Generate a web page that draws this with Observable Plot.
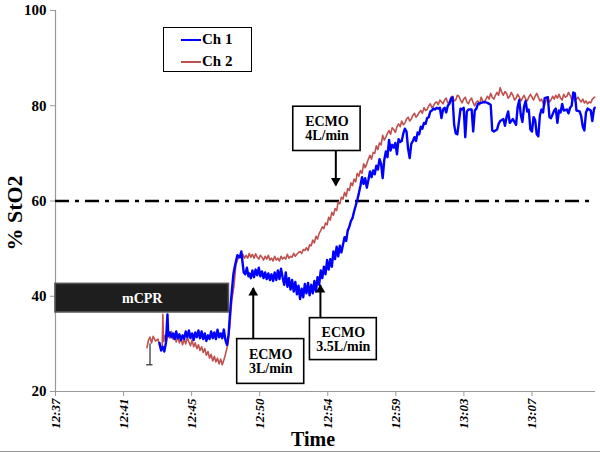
<!DOCTYPE html>
<html>
<head>
<meta charset="utf-8">
<script src="https://cdn.jsdelivr.net/npm/d3@7"></script>
<script src="https://cdn.jsdelivr.net/npm/@observablehq/plot@0.6"></script>
<style>
  html, body { margin: 0; padding: 0; background: #fff; }
  #wrap { position: relative; width: 600px; height: 453px; overflow: hidden; font-family: "Liberation Serif", "DejaVu Serif", serif; }
  #legend { position: absolute; left: 163px; top: 27px; width: 87px; height: 43px; border: 1px solid #000; background: #fff; font-weight: bold; font-size: 15px; }
  .lg { position: absolute; left: 17px; height: 16px; line-height: 16px; }
  .lg span.sw { display: inline-block; width: 20px; height: 2px; vertical-align: middle; margin-right: 1px; position: relative; top: -1px; }
  #border { position: absolute; left: 0; right: 0; top: 451px; height: 1px; background: #999; }
  svg text { font-family: "Liberation Serif", "DejaVu Serif", serif; }
</style>
</head>
<body>
<div id="wrap">
  <div id="chart"></div>
  <div id="legend">
    <div class="lg" style="top:3px"><span class="sw" style="background:#0000FF"></span>Ch 1</div>
    <div class="lg" style="top:25px"><span class="sw" style="background:#C0504D"></span>Ch 2</div>
  </div>
  <div id="border"></div>
</div>
<script>
// ---- data (x = minutes after 12:37, y = % StO2) ----
const timeLabels = ["12:37", "12:41", "12:45", "12:50", "12:54", "12:59", "13:03", "13:07"];
const tickStep = 30 / 7; // category tick spacing in minutes
const yTicks = [20, 40, 60, 80, 100];
const threshold = [60];

const ch1 = [
  [6.55,30.2],[6.65,28.6],[6.75,29.4],[6.85,28.4],[6.95,30.2],[7.05,36.2],[7.1,31.6],[7.2,32.4],[7.3,31.4],[7.4,32.2],
  [7.5,31.0],[7.6,32.6],[7.7,31.2],[7.8,32.0],[7.9,30.8],[8.0,31.8],[8.1,31.0],[8.2,32.6],[8.3,31.4],[8.4,32.8],
  [8.5,31.2],[8.6,32.2],[8.7,30.8],[8.8,32.4],[8.9,31.4],[9.0,32.8],[9.1,31.2],[9.2,32.6],[9.3,31.0],[9.4,32.2],
  [9.5,30.6],[9.6,31.8],[9.7,31.0],[9.8,32.6],[9.9,31.2],[10.0,32.4],[10.1,31.0],[10.2,33.0],[10.3,31.4],[10.4,32.2],
  [10.5,31.2],[10.6,33.0],[10.7,30.8],[10.8,29.8],[10.9,32.0],[11.0,37.0],[11.1,41.0],[11.2,44.6],[11.3,46.4],[11.45,48.6],
  [11.6,48.2],[11.7,49.4],[11.78,47.0],[11.85,45.0],[11.95,44.6],[12.05,46.0],[12.15,44.2],
  [12.2,44.8],[12.3,43.8],[12.4,45.4],[12.5,44.0],[12.6,45.6],[12.7,44.4],[12.8,46.0],[12.9,44.2],[13.0,45.2],[13.1,43.8],
  [13.2,45.0],[13.3,43.6],[13.4,44.8],[13.5,43.4],[13.6,44.6],[13.7,43.2],[13.8,45.0],[13.9,43.4],[14.0,45.4],[14.1,43.6],
  [14.2,45.8],[14.3,44.0],[14.4,42.4],[14.5,45.0],[14.6,42.0],[14.7,43.8],[14.8,41.4],[14.9,43.4],[15.0,41.0],[15.1,43.0],
  [15.2,40.4],[15.3,42.2],[15.4,39.4],[15.5,41.6],[15.6,39.8],[15.7,42.6],[15.8,40.6],[15.9,42.8],[16.0,40.2],[16.1,42.4],
  [16.2,40.6],[16.3,43.2],[16.4,41.0],[16.5,44.0],[16.6,42.4],[16.7,45.4],[16.8,43.8],[16.9,46.2],[17.0,44.6],[17.1,47.6],
  [17.2,45.6],[17.3,47.8],[17.4,46.2],[17.5,49.4],[17.6,47.8],[17.7,50.4],[17.8,48.4],[17.9,50.6],[18.0,49.2],[18.1,50.8],
  [18.2,52.4],[18.3,51.6],[18.4,53.8],[18.5,54.6],[18.6,55.8],[18.7,56.4],[18.8,57.8],[18.9,59.0],[19.0,60.2],[19.1,61.6],
  [19.2,63.2],[19.3,65.0],[19.4,63.6],[19.5,64.8],[19.6,62.8],[19.7,64.4],[19.8,66.2],[19.9,65.0],[20.0,66.4],[20.1,65.6],
  [20.2,67.4],[20.3,66.6],[20.4,68.8],[20.5,67.8],[20.6,64.8],[20.7,68.6],[20.8,70.4],[20.9,69.2],[21.0,72.8],[21.1,70.6],
  [21.2,71.8],[21.3,71.2],[21.4,72.2],[21.5,69.8],[21.6,73.0],[21.7,72.4],[21.8,72.6],[21.9,74.2],[22.0,75.2],[22.1,74.6],
  [22.2,71.0],[22.3,69.0],[22.4,72.0],[22.5,72.6],[22.6,73.4],[22.7,72.6],[22.8,74.4],[22.9,74.0],[23.0,75.6],[23.1,75.2],
  [23.2,76.4],[23.3,76.2],[23.4,77.4],[23.5,77.6],[23.6,78.8],[23.7,79.0],[23.8,79.4],[23.9,79.2],[24.0,79.6],[24.1,79.4],
  [24.2,79.6],[24.3,77.4],[24.4,79.2],[24.5,79.6],[24.6,78.6],[24.7,80.0],[24.8,80.4],[24.9,81.4],[25.0,81.8],[25.1,76.0],
  [25.2,74.2],[25.3,74.0],[25.4,76.6],[25.5,79.4],[25.6,79.2],[25.7,79.6],[25.8,73.4],[25.9,78.8],[26.0,79.2],[26.2,79.2],
  [26.3,74.6],[26.4,79.0],[26.5,79.4],[26.6,80.4],[26.8,80.6],[27.0,80.8],[27.2,80.6],[27.4,80.2],[27.5,74.8],[27.6,74.6],
  [27.8,75.0],[27.9,76.2],[28.0,76.8],[28.2,77.2],[28.3,75.8],[28.4,77.6],[28.5,78.8],[28.6,76.4],[28.8,77.2],[29.0,76.0],
  [29.1,79.8],[29.2,81.2],[29.3,78.0],[29.4,76.6],[29.5,79.8],[29.6,81.0],[29.7,78.8],[29.8,79.2],[29.9,75.0],[30.0,74.6],
  [30.1,77.6],[30.2,77.0],[30.3,74.0],[30.4,73.6],[30.5,78.0],[30.6,79.2],[30.7,78.6],[30.8,81.6],[31.0,81.8],[31.1,77.6],
  [31.2,77.4],[31.4,79.0],[31.5,79.4],[31.6,76.4],[31.7,79.0],[31.8,78.6],[31.9,80.4],[32.0,79.0],[32.2,79.2],[32.3,78.4],
  [32.4,79.6],[32.5,80.0],[32.6,82.8],[32.7,82.6],[32.8,79.0],[33.0,78.8],[33.1,77.8],[33.2,75.6],[33.3,74.8],[33.4,78.6],
  [33.5,79.4],[33.7,79.0],[33.8,76.8],[33.9,79.2],[33.95,79.6]
];

const ch2 = [
  [5.76,29.2],[5.85,30.8],[5.95,31.4],[6.05,30.2],[6.15,31.6],[6.3,30.6],[6.45,31.0],[6.55,29.6],[6.65,28.8],[6.72,29.5],
  [6.76,36.2],[6.8,30.5],[6.9,31.8],[7.0,30.6],[7.1,32.4],[7.2,31.2],[7.3,32.6],[7.4,31.0],[7.5,32.0],[7.6,30.4],
  [7.7,31.6],[7.8,30.2],[7.9,31.2],[8.0,29.8],[8.1,31.0],[8.2,30.0],[8.3,31.4],[8.4,30.4],[8.5,29.6],[8.6,30.8],
  [8.7,29.4],[8.8,30.2],[8.9,29.0],[9.0,29.8],[9.1,28.6],[9.2,29.4],[9.3,28.2],[9.4,29.0],[9.5,27.6],[9.6,28.4],
  [9.7,27.0],[9.8,27.8],[9.9,26.4],[10.0,27.4],[10.1,26.2],[10.2,27.0],[10.3,25.8],[10.4,26.8],[10.5,25.6],[10.6,26.6],
  [10.7,27.8],[10.86,30.0],[10.98,34.0],[11.1,39.2],[11.23,42.0],[11.36,46.6],[11.48,47.8],[11.61,48.4],
  [11.7,48.2],[11.8,48.8],[11.9,48.0],[12.0,48.6],[12.1,48.0],[12.2,49.0],[12.3,48.2],[12.4,48.8],[12.5,48.0],[12.6,48.9],
  [12.7,48.2],[12.8,47.8],[12.9,48.6],[13.0,48.2],[13.1,47.6],[13.2,48.4],[13.3,47.8],[13.4,48.6],[13.5,47.6],[13.6,48.0],
  [13.7,47.4],[13.8,48.4],[13.9,47.6],[14.0,48.0],[14.1,47.4],[14.2,48.4],[14.3,47.8],[14.4,48.2],[14.5,47.8],[14.6,48.8],
  [14.7,48.0],[14.8,48.4],[14.9,48.2],[15.0,49.0],[15.1,48.4],[15.2,48.8],[15.3,49.2],[15.4,49.4],[15.5,49.0],[15.6,49.8],
  [15.7,49.6],[15.8,50.2],[15.9,49.6],[16.0,50.8],[16.1,50.6],[16.2,51.8],[16.3,51.2],[16.4,52.6],[16.5,52.0],[16.6,53.2],
  [16.7,53.8],[16.8,54.6],[16.9,54.2],[17.0,55.4],[17.1,55.0],[17.2,56.6],[17.3,56.0],[17.4,57.6],[17.5,57.0],[17.6,58.4],
  [17.7,58.0],[17.8,59.8],[17.9,59.4],[18.0,60.8],[18.1,60.4],[18.2,61.8],[18.3,61.0],[18.4,62.6],[18.5,62.2],[18.6,63.8],
  [18.7,63.2],[18.8,64.6],[18.9,64.0],[19.0,65.8],[19.1,65.2],[19.2,66.4],[19.3,65.8],[19.4,67.8],[19.5,67.0],[19.6,67.8],
  [19.7,68.8],[19.8,69.6],[19.9,68.8],[20.0,70.2],[20.1,70.0],[20.2,71.6],[20.3,70.8],[20.4,72.2],[20.5,71.8],[20.6,73.8],
  [20.7,72.8],[20.8,73.4],[20.9,74.2],[21.0,74.8],[21.1,74.0],[21.2,75.4],[21.3,75.0],[21.4,74.4],[21.5,75.6],[21.6,76.2],
  [21.7,75.6],[21.8,76.8],[21.9,76.0],[22.0,76.4],[22.1,77.2],[22.2,77.6],[22.3,76.8],[22.4,77.2],[22.5,78.0],[22.6,78.4],
  [22.7,77.6],[22.8,78.0],[22.9,78.6],[23.0,79.0],[23.1,78.4],[23.2,79.6],[23.3,79.0],[23.4,79.2],[23.5,80.0],[23.6,80.4],
  [23.7,79.6],[23.8,80.0],[23.9,80.6],[24.0,80.8],[24.1,80.2],[24.2,81.2],[24.4,80.4],[24.5,81.2],[24.6,81.6],[24.7,80.6],
  [24.8,80.8],[24.9,81.8],[25.0,82.0],[25.1,81.0],[25.2,81.2],[25.3,82.2],[25.4,82.0],[25.5,81.2],[25.6,80.6],[25.7,81.4],
  [25.8,81.8],[25.9,80.8],[26.0,80.4],[26.1,81.2],[26.2,81.6],[26.3,80.6],[26.4,80.0],[26.5,80.8],[26.6,81.0],[26.7,80.2],
  [26.8,81.8],[26.9,81.0],[27.0,80.6],[27.1,81.4],[27.2,82.0],[27.3,81.4],[27.4,82.6],[27.5,81.8],[27.6,81.4],[27.7,82.2],
  [27.8,82.8],[27.9,82.2],[28.0,83.8],[28.1,82.8],[28.2,82.2],[28.3,83.0],[28.4,82.6],[28.5,81.6],[28.6,82.0],[28.7,82.8],
  [28.8,82.2],[28.9,81.2],[29.0,81.6],[29.1,82.4],[29.2,81.8],[29.3,81.0],[29.4,81.6],[29.5,82.2],[29.6,81.4],[29.7,81.0],
  [29.8,81.8],[29.9,82.4],[30.0,81.8],[30.1,81.2],[30.2,82.0],[30.3,82.6],[30.4,81.8],[30.5,81.0],[30.6,81.4],[30.7,80.6],
  [30.8,80.2],[30.9,81.2],[31.0,81.8],[31.1,80.8],[31.2,81.2],[31.3,82.0],[31.4,81.4],[31.5,82.2],[31.6,81.6],[31.7,82.4],
  [31.8,81.6],[31.9,81.2],[32.0,82.4],[32.1,81.8],[32.2,82.0],[32.3,82.8],[32.4,82.2],[32.5,81.4],[32.6,81.8],[32.7,81.0],
  [32.8,81.4],[32.9,81.8],[33.0,81.2],[33.1,80.8],[33.2,81.4],[33.3,80.6],[33.4,81.0],[33.5,80.4],[33.6,80.8],[33.7,80.6],
  [33.8,81.4],[33.95,81.8]
];

// annotation boxes (in data units)
const boxText = ["mCPR", "ECMO\n3L/min", "ECMO\n3.5L/min", "ECMO\n4L/min"];
const boxX1 = [0, 11.44, 16.02, 14.97];
const boxX2 = [10.92, 15.66, 20.23, 19.21];
const boxY1 = [36.6, 21.6, 26.6, 70.5];
const boxY2 = [42.6, 31.0, 35.4, 79.8];
const boxDark = [true, false, false, false];

// annotation arrows
const arrowX = [12.45, 16.68, 17.65];
const arrowFrom = [31.0, 35.4, 70.5];
const arrowTo = [41.7, 42.3, 63.3];

// small marker bar at start of recording
const barX = [5.95];
const barTop = [30.0];
const barBottom = [25.6];
const barCapX1 = [5.74];
const barCapX2 = [6.14];

const boxes = boxText.map((t, i) => ({text: t, x1: boxX1[i], x2: boxX2[i], y1: boxY1[i], y2: boxY2[i], dark: boxDark[i]}));
const arrows = arrowX.map((x, i) => ({x, from: arrowFrom[i], to: arrowTo[i], up: arrowTo[i] > arrowFrom[i]}));
const bar = barX.map((x, i) => ({x, top: barTop[i], bottom: barBottom[i], c1: barCapX1[i], c2: barCapX2[i]}));
const xTicks = timeLabels.map((_, i) => i * tickStep);

const chart = Plot.plot({
  width: 600,
  height: 453,
  marginLeft: 55,
  marginRight: 5,
  marginTop: 10,
  marginBottom: 62,
  style: {fontFamily: "Liberation Serif, DejaVu Serif, serif", background: "white"},
  x: {domain: [0, 34], label: null},
  y: {domain: [20, 100], label: null},
  marks: [
    Plot.axisX({ticks: xTicks, tickFormat: d => timeLabels[Math.round(d / tickStep)], tickRotate: -90, tickSize: 5, tickPadding: 2,
      stroke: "#999", fill: "black", fontSize: 13, fontWeight: "bold", fontStyle: "italic", label: null}),
    Plot.axisY({ticks: yTicks, tickSize: 5, tickPadding: 4, stroke: "#999", fill: "black", fontSize: 15, fontWeight: "bold", label: null}),
    Plot.ruleX([0], {stroke: "#999", strokeWidth: 1.2}),
    Plot.ruleY([20], {stroke: "#999", strokeWidth: 1.2}),
    Plot.ruleY(threshold, {stroke: "black", strokeWidth: 2.6, strokeDasharray: "14,6,4,6"}),
    Plot.ruleX(bar, {x: "x", y1: "bottom", y2: "top", stroke: "black", strokeWidth: 1}),
    Plot.ruleY(bar, {y: "bottom", x1: "c1", x2: "c2", stroke: "black", strokeWidth: 1}),
    Plot.line(ch2, {x: d => d[0], y: d => d[1], stroke: "#C0504D", strokeWidth: 1.6}),
    Plot.line(ch1, {x: d => d[0], y: d => d[1], stroke: "#0000FF", strokeWidth: 2.4}),
    Plot.rect(boxes, {x1: "x1", x2: "x2", y1: "y1", y2: "y2", fill: d => d.dark ? "#1e1e1e" : "white", stroke: d => d.dark ? "#555" : "black", strokeWidth: 1.6}),
    Plot.text(boxes, {x: d => (d.x1 + d.x2) / 2, y: d => (d.y1 + d.y2) / 2, text: "text", fill: d => d.dark ? "white" : "black",
      fontSize: 14, fontWeight: "bold", lineHeight: 1.0}),
    Plot.link(arrows, {x1: "x", x2: "x", y1: "from", y2: "to", stroke: "black", strokeWidth: 2}),
    Plot.dot(arrows.filter(d => d.up), {x: "x", y: "to", symbol: "triangle", r: 3.6, fill: "black", stroke: null, dy: 4.5}),
    Plot.dot(arrows.filter(d => !d.up), {x: "x", y: "to", symbol: "triangle", r: 3.6, fill: "black", stroke: null, rotate: 180, dy: -4.5})
  ]
});
document.getElementById("chart").appendChild(chart);

// axis titles as real text
const svg = d3.select(chart);
svg.append("text").attr("x", 313).attr("y", 446).attr("text-anchor", "middle")
  .attr("font-size", 20).attr("font-weight", "bold").attr("fill", "black").text("Time");
svg.append("text").attr("transform", "translate(22,213) rotate(-90)").attr("text-anchor", "middle")
  .attr("font-size", 22).attr("font-weight", "bold").attr("fill", "black").text("% StO2");
</script>
</body>
</html>
